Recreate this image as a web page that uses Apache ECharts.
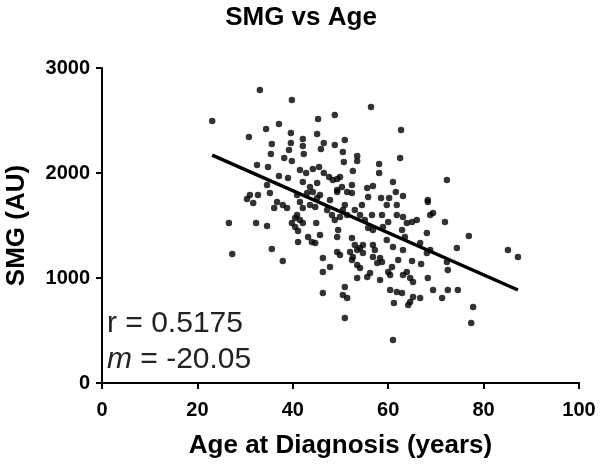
<!DOCTYPE html>
<html>
<head>
<meta charset="utf-8">
<script src="https://cdn.jsdelivr.net/npm/echarts@6/dist/echarts.min.js"></script>
<style>html,body{margin:0;padding:0;background:#fff}#c{width:600px;height:466px}</style>
</head>
<body>
<div id="c"></div>
<script>
// Age at diagnosis (years)
const age = [23.1,33.1,39.8,37.1,34.4,30.8,39.6,45.3,48.8,56.4,45.1,35.6,39.6,42.1,46.5,48.8,50.9,42.1,39.2,45.9,
35.4,42.3,50.5,53.5,38.2,39.8,53.5,50.7,32.5,34.8,41.5,42.8,44.2,45.5,46.5,47.6,49.3,52.6,37.1,39.0,
34.6,43.6,45.1,50.3,52.4,55.6,31.0,32.7,35.2,43.0,44.2,49.3,52.4,62.7,62.5,58.1,58.1,72.3,61.0,56.8,
61.6,63.1,55.8,58.5,60.2,68.3,30.4,31.7,36.7,37.9,36.1,38.8,40.9,41.5,42.1,43.6,45.1,44.7,40.9,39.8,
41.5,42.1,40.5,44.9,26.6,32.3,34.6,27.3,35.6,37.9,41.1,41.1,43.2,44.0,44.7,45.7,47.2,48.2,48.8,49.9,
51.4,50.5,49.5,49.3,46.3,46.3,47.8,49.3,49.9,52.4,53.0,53.5,52.0,52.6,54.1,54.7,52.4,53.5,54.1,54.7,
46.3,50.9,50.5,51.4,50.9,53.5,55.6,56.2,59.7,58.7,61.8,54.1,56.6,55.8,56.8,58.9,60.0,59.7,56.8,57.2,
56.8,58.3,58.7,57.7,58.3,60.0,60.8,60.4,61.0,63.1,62.1,63.5,60.4,61.2,61.8,62.9,63.1,64.6,65.2,63.9,
64.6,65.2,66.7,65.0,66.9,68.1,68.3,69.4,71.3,72.5,74.6,63.9,65.0,66.0,62.9,63.1,61.8,68.1,68.8,68.3,
71.9,66.7,68.8,72.3,72.5,74.4,76.9,77.8,77.4,85.1,87.2,61.0,69.4,48.4,49.9,42.1,64.2,40.5,49.3,51.4,
45.7,47.8,50.9,53.0,54.5,55.1];
// SMG (AU)
const smg = [2495,2790,2695,2467,2419,2343,2381,2514,2552,2629,2371,2276,2286,2324,2286,2267,2314,2257,2219,2229,
2181,2181,2200,2162,2143,2114,2114,2105,2076,2057,2029,2000,2038,2057,2000,1962,1943,2019,1971,1952,
1886,1867,1905,1867,1886,1857,1791,1791,1810,1810,1819,1819,1810,2410,2143,2086,2000,1933,1914,1876,
1819,1781,1771,1762,1762,1743,1752,1714,1724,1695,1667,1667,1791,1724,1667,1695,1762,1676,1600,1524,
1552,1524,1486,1524,1524,1524,1495,1229,1276,1162,1448,1343,1390,1343,1333,1410,1648,1600,1552,1581,
1600,1648,1457,1390,1190,1057,1105,1248,1219,1381,1314,1267,1248,1200,1286,1314,1171,1124,1095,1238,
857,914,838,810,619,1000,1010,1048,1695,1600,1695,1600,1600,1476,1457,1486,1533,1362,1314,1267,
1200,1190,1152,1143,981,1057,1105,1029,1295,1267,1171,1390,886,762,867,857,1029,1000,962,1057,
771,819,810,1162,1133,1238,1000,886,810,886,886,1524,1533,1552,1457,1581,1600,1429,1600,1724,
1533,1333,1267,1152,1076,1286,1400,724,571,1267,1200,410,1619,1933,1962,1914,743,1571,1838,1819,
1791,1743,1695,1648,1695,1552];
const xTicks = [0, 20, 40, 60, 80, 100];
const yTicks = [0, 1000, 2000, 3000];
const fitSlope = -20.05;
const fitIntercept = 2634;
const rText = 'r = 0.5175';
const mText = '-20.05';

const points = age.map((a, i) => [a, smg[i]]);
const aMin = Math.min(...age), aMax = Math.max(...age);
const fitLine = [[aMin, fitIntercept + fitSlope * aMin], [aMax, fitIntercept + fitSlope * aMax]];

const chart = echarts.init(document.getElementById('c'), null, {renderer: 'canvas'});
const F = '"Liberation Sans", Arial, sans-serif';
chart.setOption({
  animation: false,
  backgroundColor: '#fff',
  title: {
    text: 'SMG vs Age', left: 296, top: 0, textAlign: 'center',
    textStyle: {fontFamily: F, fontWeight: 'bold', fontSize: 26, color: '#000'}
  },
  grid: {left: 102, right: 21, top: 68, bottom: 83, containLabel: false, outerBoundsMode: 'none'},
  xAxis: {
    type: 'value', min: xTicks[0], max: xTicks[xTicks.length - 1], interval: xTicks[1] - xTicks[0],
    name: 'Age at Diagnosis (years)', nameLocation: 'middle', nameGap: 50,
    nameTextStyle: {fontFamily: F, fontWeight: 'bold', fontSize: 26, color: '#000'},
    axisLine: {show: true, lineStyle: {color: '#000', width: 2}},
    axisTick: {show: true, length: 6, lineStyle: {color: '#000', width: 2}},
    axisLabel: {fontFamily: F, fontWeight: 'bold', fontSize: 20, color: '#000', margin: 17,
                formatter: v => String(v)},
    splitLine: {show: false}
  },
  yAxis: {
    type: 'value', min: yTicks[0], max: yTicks[yTicks.length - 1], interval: yTicks[1] - yTicks[0],
    name: 'SMG (AU)', nameLocation: 'middle', nameGap: 72,
    nameTextStyle: {fontFamily: F, fontWeight: 'bold', fontSize: 26, color: '#000'},
    axisLine: {show: true, lineStyle: {color: '#000', width: 2}},
    axisTick: {show: true, length: 6, lineStyle: {color: '#000', width: 2}},
    axisLabel: {fontFamily: F, fontWeight: 'bold', fontSize: 20, color: '#000', margin: 12,
                formatter: v => String(v)},
    splitLine: {show: false}
  },
  graphic: [
    {type: 'text', left: 107, top: 309, silent: true,
     style: {text: rText, font: '30px ' + F, fill: '#222'}},
    {type: 'text', left: 107, top: 345, silent: true,
     style: {text: '{i|m} = ' + mText, font: '30px ' + F, fill: '#222',
             rich: {i: {fontStyle: 'italic', fontSize: 30, fontFamily: F, fill: '#222'}}}}
  ],
  series: [
    {type: 'scatter', data: points, symbol: 'circle', symbolSize: 6.5,
     itemStyle: {color: '#000'}, z: 2},
    {type: 'line', data: fitLine, symbol: 'none', lineStyle: {color: '#000', width: 3.5}, z: 3}
  ]
});
</script>
</body>
</html>
